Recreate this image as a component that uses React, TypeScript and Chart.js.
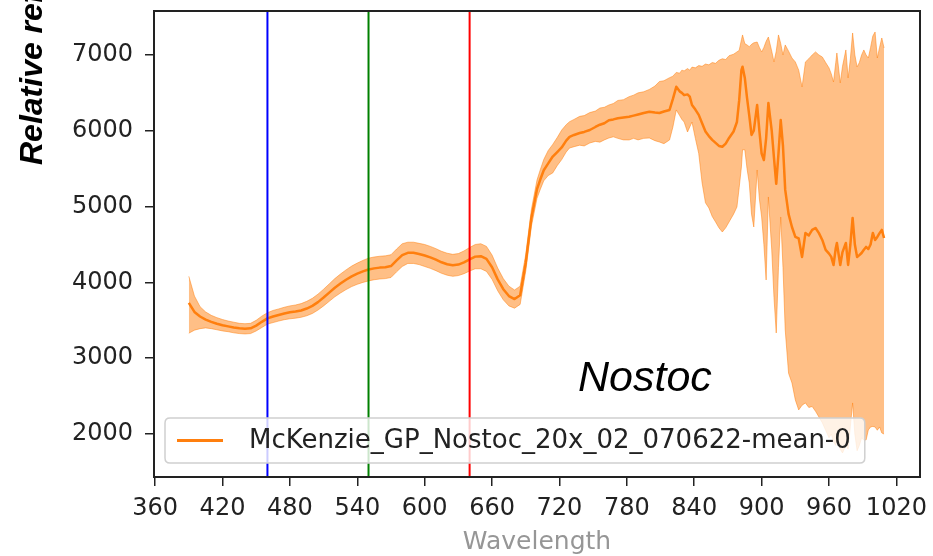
import React, { useEffect, useRef } from "react";
import { Chart, registerables } from "chart.js";

Chart.register(...registerables);

// ---------------- data ----------------
const WAVELENGTH = [
  390, 395, 400, 405, 410, 415, 420, 425, 430, 435,
  440, 445, 450, 455, 460, 465, 470, 475, 480, 485,
  490, 495, 500, 505, 510, 515, 520, 525, 530, 535,
  540, 545, 550, 555, 560, 565, 570, 575, 580, 585,
  590, 595, 600, 605, 610, 615, 620, 625, 630, 635,
  640, 645, 650, 655, 660, 665, 670, 675, 680, 685,
  690, 695, 700,
  703, 706, 710, 714, 718, 722, 726, 729, 733, 738,
  742, 747, 752, 756, 760, 764, 768, 772, 777, 782,
  786, 790, 795, 800, 805, 809, 813, 818, 821, 824,
  827, 829, 831, 834, 836, 838, 841, 844, 847, 850,
  853, 856, 859, 862, 865, 868, 871, 875, 878, 880,
  882, 883, 885, 887, 889, 891, 893, 896, 898, 900,
  902, 904, 906, 909, 911, 913, 915, 917, 919, 921,
  924, 927, 930, 933, 936, 939, 942, 945, 948, 951,
  954, 957, 960, 962, 964, 966, 967, 970, 972, 975,
  977, 979, 981, 983, 985, 987, 989, 991, 993, 995,
  997, 999, 1001, 1003, 1005, 1007, 1009,
];

const MEAN = [
  3730, 3610, 3550, 3510, 3480, 3455, 3435, 3420, 3405, 3395,
  3390, 3395, 3430, 3480, 3525, 3550, 3570, 3590, 3605, 3615,
  3630, 3655, 3690, 3740, 3800, 3865, 3930, 3985, 4035, 4080,
  4115, 4145, 4170, 4185, 4195, 4200, 4215, 4290, 4360, 4390,
  4390, 4375, 4355, 4330, 4300, 4265, 4240, 4225, 4235, 4265,
  4305, 4340, 4345, 4310, 4200, 4040, 3910, 3820, 3780, 3830,
  4260, 4850, 5230,
  5360, 5480, 5570, 5660, 5720, 5780, 5870, 5920, 5945, 5970,
  5985, 6010, 6050, 6080, 6100, 6140, 6150, 6165, 6175, 6185,
  6200, 6215, 6235, 6250, 6240, 6235, 6255, 6275, 6420, 6580,
  6520, 6500, 6470, 6480, 6450, 6340, 6280, 6210, 6100, 5990,
  5930, 5880, 5840, 5800, 5790, 5830, 5905, 5990, 6116, 6400,
  6800, 6845, 6700, 6433, 6200, 5945, 6000, 6340, 6000, 5700,
  5615, 5900, 6367, 6000, 5641, 5300, 5700, 6142, 5800, 5220,
  4900, 4731, 4600, 4580, 4336, 4652, 4620, 4692, 4718, 4650,
  4560, 4428, 4380, 4336, 4230, 4450, 4520, 4230, 4400, 4520,
  4230, 4500, 4850, 4500, 4336, 4360, 4388, 4430, 4468, 4440,
  4500, 4652, 4560, 4600, 4650, 4692, 4586,
];

const UPPER = [
  4080, 3820, 3680, 3610, 3565, 3535, 3510, 3490, 3475, 3460,
  3455, 3460, 3500, 3555, 3600, 3630, 3650, 3672, 3690, 3702,
  3720, 3750, 3790, 3845, 3910, 3980, 4050, 4110, 4165, 4215,
  4255, 4290, 4320, 4335, 4345, 4350, 4365, 4440, 4510, 4530,
  4530, 4515, 4500, 4475, 4445, 4410, 4385, 4370, 4380, 4415,
  4460, 4500, 4510, 4475, 4360, 4190, 4050, 3950, 3900, 3950,
  4370, 4960, 5350,
  5490, 5620, 5740, 5820, 5910, 6010, 6080, 6120, 6150, 6190,
  6200, 6240, 6260, 6300, 6310, 6340, 6360, 6400, 6410, 6450,
  6470, 6500, 6515, 6545, 6590, 6650, 6660, 6700, 6720, 6770,
  6760, 6800, 6790, 6820, 6800, 6840, 6830, 6860, 6850, 6880,
  6870, 6900, 6890, 6930, 6950, 6940, 6990, 7010, 7040, 7060,
  7200, 7264, 7150, 7132, 7110, 7140, 7160, 7171, 7100, 7040,
  7100, 7180, 7237, 7050, 6908, 7050, 7264, 7150, 7000, 7132,
  7050, 6960, 6908, 6800, 6578, 6908, 6950, 7000, 7040, 7000,
  6974, 6900, 6829, 6750, 6644, 6900, 7026, 6631, 6850, 7066,
  6697, 6950, 7290, 7000, 6842, 6900, 7000, 7066, 7000, 6960,
  7100, 7250, 7303, 6960, 7100, 7224, 7092,
];

const LOWER = [
  3330, 3370, 3390, 3400, 3390, 3375, 3360, 3350, 3335, 3325,
  3320, 3325, 3360, 3405, 3450, 3470, 3490, 3508, 3520, 3528,
  3540, 3560, 3590, 3635, 3690, 3750, 3810, 3860, 3905, 3945,
  3975, 4000, 4020, 4035, 4045, 4050, 4065, 4140, 4210, 4250,
  4250, 4235, 4210, 4185, 4155, 4120, 4095, 4080, 4090, 4115,
  4150, 4180, 4180, 4145, 4040, 3890, 3770, 3690, 3660, 3710,
  4150, 4740, 5110,
  5230, 5340, 5410, 5444, 5540, 5620, 5720, 5773, 5790, 5810,
  5800, 5839, 5860, 5850, 5880, 5905, 5920, 5900, 5880, 5879,
  5900, 5880, 5900, 5905, 5870, 5852, 5830, 5879, 6050, 6275,
  6200, 6150, 6116, 5984, 6050, 6116, 5900, 5700, 5312, 5050,
  4982, 4870, 4797, 4720, 4665, 4720, 4797, 4900, 4995, 5250,
  5523, 5750, 5750, 5500, 5312, 4900, 4731, 5483, 5100, 4863,
  4500, 4032, 5127, 4428, 3800, 3333, 4200, 4863, 4200, 3373,
  2800, 2674, 2450, 2318, 2380, 2410, 2350, 2363, 2300, 2225,
  2150, 2050, 1950, 2000, 1900, 1850, 1950, 1800, 1750, 1850,
  1800, 2100, 2410, 2000, 1780, 1850, 1950, 1920, 1922, 2054,
  2093, 2100, 2093, 2050, 2093, 2014, 2000,
];

const MARKER_WAVELENGTHS = [460, 550, 640];
const MARKER_COLORS = ["#0000ff", "#008000", "#ff0000"];

const X_TICKS = [360, 420, 480, 540, 600, 660, 720, 780, 840, 900, 960, 1020];
const Y_TICKS = [2000, 3000, 4000, 5000, 6000, 7000];
const X_RANGE = [359, 1041];
const Y_RANGE = [1433, 7580];

const SERIES_LABEL = "McKenzie_GP_Nostoc_20x_02_070622-mean-0";
const X_TITLE = "Wavelength";
const Y_TITLE = "Relative reflectance";
const ANNOTATION = "Nostoc";

const ORANGE = "#ff7f0e";
const BAND = "rgba(255,127,14,0.5)";

// ---------------- plugin for frame, titles, legend ----------------
const decorPlugin = {
  id: "decor",
  afterDraw(chart: any) {
    const ctx = chart.ctx as CanvasRenderingContext2D;
    const a = chart.chartArea;
    ctx.save();
    // frame
    ctx.strokeStyle = "#222";
    ctx.lineWidth = 2;
    ctx.strokeRect(a.left, a.top, a.right - a.left, a.bottom - a.top);

    // annotation
    ctx.fillStyle = "#000";
    ctx.font = 'italic 43px "Liberation Sans", Arial, sans-serif';
    ctx.textAlign = "left";
    ctx.textBaseline = "alphabetic";
    ctx.fillText(ANNOTATION, 578, 391);

    // legend
    const font = '26px "DejaVu Sans", sans-serif';
    ctx.font = font;
    const lx = 165;
    const lt = 418;
    const lb = 463;
    const handleX0 = lx + 12;
    const handleX1 = handleX0 + 46;
    const textX = handleX1 + 26;
    const tw = ctx.measureText(SERIES_LABEL).width;
    const lr = textX + tw + 14;
    ctx.beginPath();
    const r = 5;
    ctx.moveTo(lx + r, lt);
    ctx.lineTo(lr - r, lt);
    ctx.quadraticCurveTo(lr, lt, lr, lt + r);
    ctx.lineTo(lr, lb - r);
    ctx.quadraticCurveTo(lr, lb, lr - r, lb);
    ctx.lineTo(lx + r, lb);
    ctx.quadraticCurveTo(lx, lb, lx, lb - r);
    ctx.lineTo(lx, lt + r);
    ctx.quadraticCurveTo(lx, lt, lx + r, lt);
    ctx.closePath();
    ctx.fillStyle = "rgba(255,255,255,0.8)";
    ctx.fill();
    ctx.strokeStyle = "#d0d0d0";
    ctx.lineWidth = 1.5;
    ctx.stroke();
    const ly = (lt + lb) / 2;
    ctx.strokeStyle = ORANGE;
    ctx.lineWidth = 3;
    ctx.beginPath();
    ctx.moveTo(handleX0, ly);
    ctx.lineTo(handleX1, ly);
    ctx.stroke();
    ctx.fillStyle = "#222";
    ctx.textBaseline = "middle";
    ctx.fillText(SERIES_LABEL, textX, ly + 1);

    // x title
    ctx.fillStyle = "#969696";
    ctx.font = '25px "DejaVu Sans", sans-serif';
    ctx.textAlign = "center";
    ctx.textBaseline = "middle";
    ctx.fillText(X_TITLE, (a.left + a.right) / 2, 542);

    // y title (runs off the top of the canvas, as in the original)
    ctx.translate(42, 165);
    ctx.rotate(-Math.PI / 2);
    ctx.fillStyle = "#000";
    ctx.font = 'bold italic 32px "Liberation Sans", Arial, sans-serif';
    ctx.textAlign = "left";
    ctx.textBaseline = "alphabetic";
    ctx.fillText(Y_TITLE, 0, 0);
    ctx.restore();
  },
};

export default function App() {
  const ref = useRef<HTMLCanvasElement | null>(null);

  useEffect(() => {
    if (!ref.current) return;
    const pts = (arr: number[]) => WAVELENGTH.map((w, i) => ({ x: w, y: arr[i] }));
    const markerSets = MARKER_WAVELENGTHS.map((w, i) => ({
      label: "marker" + w,
      data: [
        { x: w, y: Y_RANGE[0] },
        { x: w, y: Y_RANGE[1] },
      ],
      borderColor: MARKER_COLORS[i],
      borderWidth: 2,
      pointRadius: 0,
      fill: false,
      order: 0,
    }));

    const chart = new Chart(ref.current, {
      type: "line",
      data: {
        datasets: [
          {
            label: "upper",
            data: pts(UPPER),
            borderColor: BAND,
            borderWidth: 1,
            backgroundColor: BAND,
            pointRadius: 0,
            fill: "+1",
            order: 3,
          } as any,
          {
            label: "lower",
            data: pts(LOWER),
            borderColor: BAND,
            borderWidth: 1,
            backgroundColor: BAND,
            pointRadius: 0,
            fill: false,
            order: 3,
          },
          {
            label: SERIES_LABEL,
            data: pts(MEAN),
            borderColor: ORANGE,
            borderWidth: 2.5,
            pointRadius: 0,
            fill: false,
            borderJoinStyle: "round",
            order: 1,
          },
          ...markerSets,
        ],
      },
      options: {
        animation: false,
        responsive: false,
        maintainAspectRatio: false,
        layout: { padding: { left: 0, right: 13, top: 11, bottom: 0 } },
        plugins: {
          legend: { display: false },
          tooltip: { enabled: false },
        },
        scales: {
          x: {
            type: "linear",
            min: X_RANGE[0],
            max: X_RANGE[1],
            afterBuildTicks: (axis: any) => {
              axis.ticks = X_TICKS.map((v) => ({ value: v }));
            },
            afterFit: (s: any) => {
              s.height = 79;
              s.paddingLeft = 0;
              s.paddingRight = 0;
            },
            grid: {
              display: true,
              drawOnChartArea: false,
              drawTicks: true,
              tickLength: 9,
              color: "#222",
              lineWidth: 1.5,
            },
            border: { display: false },
            ticks: {
              autoSkip: false,
              maxRotation: 0,
              padding: 8,
              color: "#222",
              font: { family: '"DejaVu Sans", sans-serif', size: 24 },
              callback: (v: any) => String(v),
            },
          },
          y: {
            type: "linear",
            min: Y_RANGE[0],
            max: Y_RANGE[1],
            afterBuildTicks: (axis: any) => {
              axis.ticks = Y_TICKS.map((v) => ({ value: v }));
            },
            afterFit: (s: any) => {
              s.width = 154;
              s.paddingTop = 0;
              s.paddingBottom = 0;
            },
            grid: {
              display: true,
              drawOnChartArea: false,
              drawTicks: true,
              tickLength: 9,
              color: "#222",
              lineWidth: 1.5,
            },
            border: { display: false },
            ticks: {
              autoSkip: false,
              padding: 12,
              color: "#222",
              font: { family: '"DejaVu Sans", sans-serif', size: 24 },
              callback: (v: any) => String(v),
            },
          },
        },
      },
      plugins: [decorPlugin],
    });
    return () => chart.destroy();
  }, []);

  return (
    <div style={{ position: "fixed", left: 0, top: 0, width: 933, height: 556, background: "#fff" }}>
      <canvas ref={ref} width={933} height={556} style={{ width: 933, height: 556, display: "block" }} />
    </div>
  );
}
